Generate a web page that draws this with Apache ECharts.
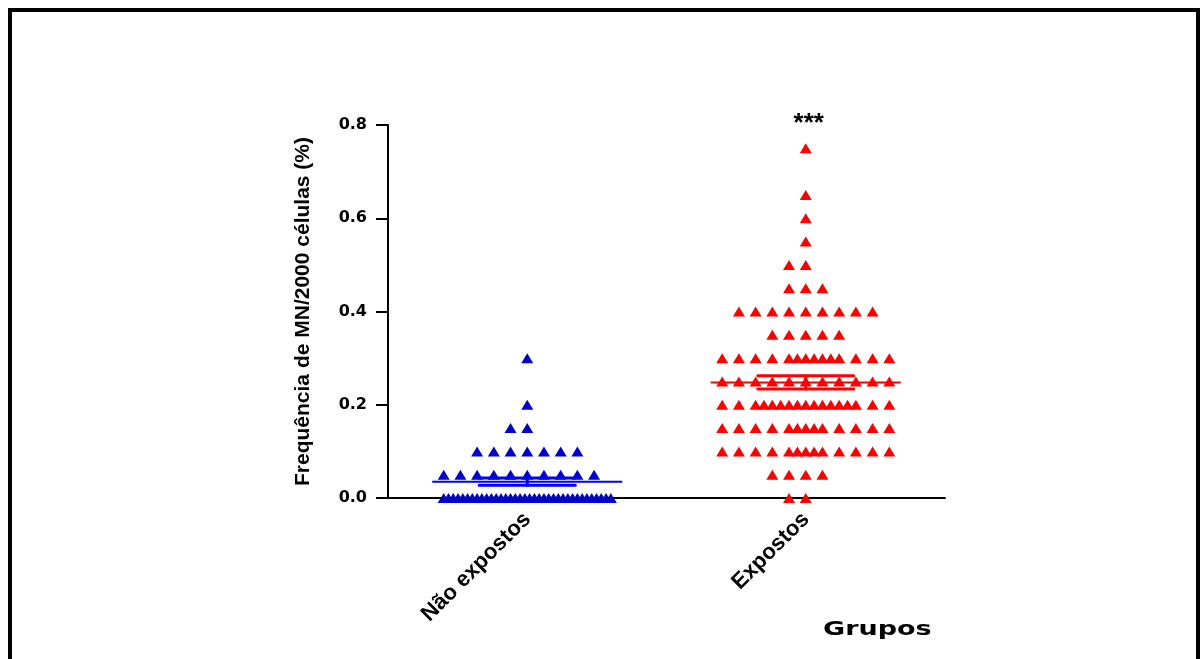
<!DOCTYPE html>
<html>
<head>
<meta charset="utf-8">
<script src="https://cdn.jsdelivr.net/npm/echarts@6/dist/echarts.min.js"></script>
<style>
  html, body { margin: 0; padding: 0; background: #fff; }
  #main { width: 1201px; height: 659px; }
</style>
</head>
<body>
<div id="main"></div>
<script>
var groups = ['Não expostos', 'Expostos'];
// frequency levels (%) and how many subjects sit on each level
var levels = [0, 0.05, 0.10, 0.15, 0.20, 0.25, 0.30, 0.35, 0.40, 0.45, 0.50, 0.55, 0.60, 0.65, 0.70, 0.75];
var naoExpostosCounts = [36, 10, 7, 2, 1, 0, 1, 0, 0, 0, 0, 0, 0, 0, 0, 0];
var expostosCounts = [2, 4, 13, 13, 17, 11, 14, 5, 9, 3, 2, 1, 1, 1, 0, 1];
var yTicks = [0, 0.2, 0.4, 0.6, 0.8];

var SLOT = 0.06;     // one symbol width in category units
var HALF = 5;        // slots each side of the column centre

// prism-like column scatter: slot positions for n points on one row
function rowSlots(n) {
    var out = [], i;
    if (n <= 2 * HALF + 1) {
        var start = -Math.floor(n / 2);
        for (i = 0; i < n; i++) out.push(start + i);
    } else if (n <= 4 * HALF + 1) {
        var extra = n - (2 * HALF + 1);
        var a = -Math.floor(extra / 2), b = a + extra;
        for (i = -HALF; i < a; i++) out.push(i);
        for (i = 0; i <= 2 * extra; i++) out.push(a + i / 2);
        for (i = b + 1; i <= HALF; i++) out.push(i);
    } else {
        for (i = 0; i < n; i++) out.push(-HALF + 2 * HALF * i / (n - 1));
    }
    return out;
}

function expand(counts) {
    var vals = [];
    counts.forEach(function (c, k) {
        for (var i = 0; i < c; i++) vals.push(levels[k]);
    });
    return vals;
}

function swarm(idx, counts) {
    var pts = [];
    counts.forEach(function (c, k) {
        rowSlots(c).forEach(function (s) {
            pts.push([idx + s * SLOT, levels[k]]);
        });
    });
    return pts;
}

function meanSem(vals) {
    var n = vals.length, m = 0, ss = 0;
    vals.forEach(function (v) { m += v; });
    m /= n;
    vals.forEach(function (v) { ss += (v - m) * (v - m); });
    return [m, Math.sqrt(ss / (n - 1)) / Math.sqrt(n)];
}

function barRender(params, api) {
    var x = api.value(0), m = api.value(1), s = api.value(2);
    var c = api.coord([x, m]);
    var lo = api.coord([x, m - s]);
    var hi = api.coord([x, m + s]);
    var col = api.visual('color');
    var thin = { stroke: col, lineWidth: 2 };
    var thick = { stroke: col, lineWidth: 3, lineCap: 'round' };
    return {
        type: 'group',
        children: [
            { type: 'line', shape: { x1: c[0] - 95, y1: c[1], x2: c[0] + 95, y2: c[1] }, style: thin },
            { type: 'line', shape: { x1: c[0] - 48, y1: lo[1], x2: c[0] + 48, y2: lo[1] }, style: thick },
            { type: 'line', shape: { x1: c[0] - 48, y1: hi[1], x2: c[0] + 48, y2: hi[1] }, style: thick },
            { type: 'line', shape: { x1: c[0], y1: lo[1], x2: c[0], y2: hi[1] }, style: thick }
        ]
    };
}

var msNao = meanSem(expand(naoExpostosCounts));
var msExp = meanSem(expand(expostosCounts));

var myChart = echarts.init(document.getElementById('main'));

var option = {
    animation: false,
    grid: { left: 388, right: 256, top: 125, bottom: 161 },
    xAxis: [
        {
            type: 'category',
            data: groups,
            axisLine: { lineStyle: { color: '#000', width: 2 } },
            axisTick: { alignWithLabel: true, length: 6, lineStyle: { color: '#000', width: 3 } },
            axisLabel: {
                rotate: 45, margin: 18, color: '#000',
                fontFamily: 'Liberation Sans', fontWeight: 'bold', fontSize: 22
            }
        },
        { type: 'value', min: -0.5, max: 1.5, show: false }
    ],
    yAxis: {
        type: 'value',
        min: 0, max: 0.8, interval: 0.2,
        name: 'Frequência de MN/2000 células (%)',
        nameLocation: 'middle',
        nameGap: 74,
        nameTextStyle: { color: '#000', fontFamily: 'Liberation Sans', fontWeight: 'bold', fontSize: 21 },
        axisLine: { show: true, onZero: false, lineStyle: { color: '#000', width: 2 } },
        axisTick: { show: true, length: 12, lineStyle: { color: '#000', width: 2 } },
        splitLine: { show: false },
        axisLabel: {
            margin: 21, color: '#000',
            fontFamily: 'DejaVu Sans', fontWeight: 'bold', fontSize: 16,
            formatter: function (v) { return v.toFixed(1); }
        }
    },
    graphic: [
        {
            type: 'rect', z: 100,
            shape: { x: 10, y: 10, width: 1188, height: 700 },
            style: { fill: 'none', stroke: '#000', lineWidth: 4 }
        },
        {
            type: 'text', x: 823, y: 620, scaleX: 1.35,
            style: { text: 'Grupos', fill: '#000', font: 'bold 20px "DejaVu Sans"', textVerticalAlign: 'top' }
        }
    ],
    series: [
        {
            name: groups[0], type: 'scatter', xAxisIndex: 1,
            symbol: 'triangle', symbolSize: [12, 10],
            itemStyle: { color: '#0000cc', opacity: 1 },
            data: swarm(0, naoExpostosCounts)
        },
        {
            name: groups[1], type: 'scatter', xAxisIndex: 1,
            symbol: 'triangle', symbolSize: [12, 10],
            itemStyle: { color: '#ff0000', opacity: 1 },
            data: swarm(1, expostosCounts),
            markPoint: {
                symbol: 'circle', symbolSize: 0,
                label: {
                    show: true, position: 'inside', formatter: '***', color: '#000',
                    fontFamily: 'Liberation Sans', fontWeight: 'bold', fontSize: 26, offset: [3, -1]
                },
                data: [{ coord: [1, 0.8] }]
            }
        },
        {
            type: 'custom', xAxisIndex: 1, z: 5,
            itemStyle: { color: '#0000ff' },
            renderItem: barRender,
            data: [[0, msNao[0], msNao[1]]]
        },
        {
            type: 'custom', xAxisIndex: 1, z: 5,
            itemStyle: { color: '#ff0000' },
            renderItem: barRender,
            data: [[1, msExp[0], msExp[1]]]
        }
    ]
};
myChart.setOption(option);
</script>
</body>
</html>
